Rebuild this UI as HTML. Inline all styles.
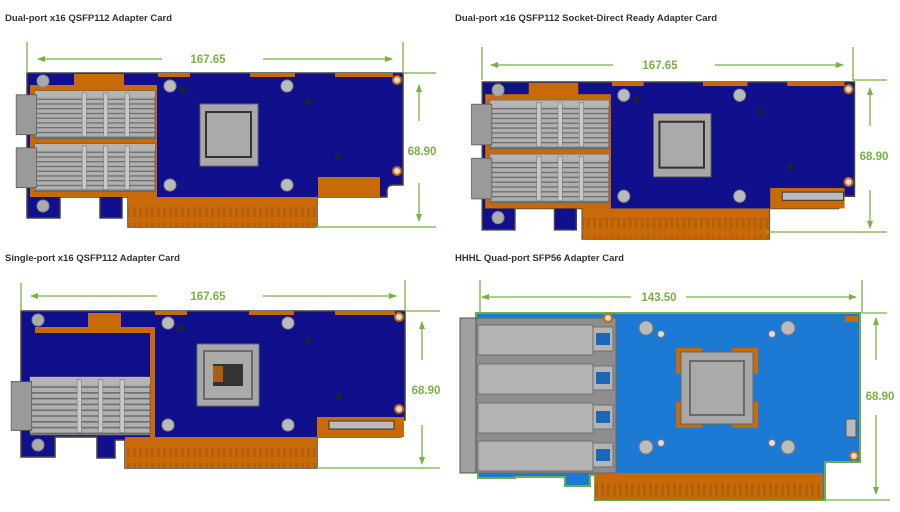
<!DOCTYPE html>
<html><head><meta charset="utf-8"><style>
html,body{margin:0;padding:0;background:#fff;width:900px;height:512px;overflow:hidden}
svg{display:block}
.t{font-family:"Liberation Sans",sans-serif;font-weight:bold;font-size:9.5px;fill:#333}
.d{font-family:"Liberation Sans",sans-serif;font-weight:bold;font-size:11.5px;fill:#78b045}
.g{stroke:#78b045;stroke-width:1.3;fill:none}
</style></head><body>
<svg width="900" height="512" viewBox="0 0 900 512" xmlns="http://www.w3.org/2000/svg">
<defs>
<marker id="ar" markerWidth="8" markerHeight="8" refX="7" refY="4" orient="auto" markerUnits="userSpaceOnUse"><path d="M0,1 L8,4 L0,7z" fill="#78b045"/></marker>
<pattern id="fin" width="4" height="5" patternUnits="userSpaceOnUse"><rect width="4" height="5" fill="#b0b0b0"/><rect y="3" width="4" height="1.3" fill="#6a6a6a"/></pattern>
<pattern id="gf" width="6" height="20" patternUnits="userSpaceOnUse"><rect width="6" height="20" fill="#c86a08"/><rect x="1" y="3" width="3" height="14" fill="#a85a10" opacity=".6"/></pattern>
<g id="hs">
 <rect x="0" y="0" width="140" height="50" fill="url(#fin)" stroke="#555" stroke-width=".8"/>
 <rect x="0" y="0" width="140" height="6" fill="#b5b5b5"/>
 <rect x="55" y="2" width="5" height="46" fill="#c8c8c8" stroke="#666" stroke-width=".5"/>
 <rect x="80" y="2" width="5" height="46" fill="#c8c8c8" stroke="#666" stroke-width=".5"/>
 <rect x="105" y="2" width="5" height="46" fill="#c8c8c8" stroke="#666" stroke-width=".5"/>
 <rect x="-22" y="4" width="24" height="42" fill="#9a9a9a" stroke="#555" stroke-width=".8"/>
</g>
<g id="card2">
 <path d="M27,73 H403 V185 H393 Q387,185 387,191 V197 H317 V227 H128 V197 H122 V218 H100 V197 H60 V218 H27 Z" fill="#10108c" stroke="#444" stroke-width="1.5"/>
 <rect x="128" y="207" width="189" height="20" fill="url(#gf)"/>
 <rect x="128" y="197" width="189" height="10" fill="#c86a08"/>
 <rect x="318" y="177" width="62" height="20" fill="#c86a08"/>
 <rect x="158" y="73" width="32" height="4" fill="#c86a08"/><rect x="250" y="73" width="45" height="4" fill="#c86a08"/><rect x="335" y="73" width="58" height="4" fill="#c86a08"/>
 <rect x="74" y="74" width="50" height="12" fill="#c86a08"/>
 <rect x="30" y="85" width="127" height="112" fill="#c86a08"/>
 <circle cx="43" cy="81" r="6" fill="#aaa" stroke="#888"/><circle cx="43" cy="206" r="6" fill="#aaa" stroke="#888"/>
 <use href="#hs" transform="translate(35,91) scale(0.857,0.95)"/>
 <use href="#hs" transform="translate(35,144) scale(0.857,0.95)"/>
 <rect x="200" y="104" width="58" height="62" fill="#a8a8a8" stroke="#666"/>
 <rect x="206" y="112" width="45" height="45" fill="#aaa" stroke="#333" stroke-width="2"/>
 <circle cx="170" cy="86" r="6" fill="#bbb" stroke="#888"/><circle cx="287" cy="86" r="6" fill="#bbb" stroke="#888"/>
 <circle cx="170" cy="185" r="6" fill="#bbb" stroke="#888"/><circle cx="287" cy="185" r="6" fill="#bbb" stroke="#888"/>
 <circle cx="183" cy="90" r="3" fill="#222"/><circle cx="308" cy="102" r="3" fill="#222"/><circle cx="338" cy="157" r="3" fill="#222"/>
 <circle cx="397" cy="80" r="4" fill="#ddd" stroke="#c86a08" stroke-width="2"/><circle cx="397" cy="171" r="4" fill="#ddd" stroke="#c86a08" stroke-width="2"/>
</g>
</defs>

<text class="t" x="5" y="21">Dual-port x16 QSFP112 Adapter Card</text>
<use href="#card2"/>
<line class="g" x1="27" y1="42" x2="27" y2="73"/><line class="g" x1="403" y1="42" x2="403" y2="73"/>
<line class="g" x1="403" y1="73" x2="436" y2="73"/><line class="g" x1="315" y1="227" x2="436" y2="227"/>
<line class="g" x1="162" y1="59" x2="38" y2="59" marker-end="url(#ar)"/>
<line class="g" x1="263" y1="59" x2="392" y2="59" marker-end="url(#ar)"/>
<text class="d" x="208" y="63" text-anchor="middle">167.65</text>
<line class="g" x1="419" y1="121" x2="419" y2="85" marker-end="url(#ar)"/>
<line class="g" x1="419" y1="183" x2="419" y2="221" marker-end="url(#ar)"/>
<text class="d" x="422" y="155" text-anchor="middle">68.90</text>

<text class="t" x="455" y="21">Dual-port x16 QSFP112 Socket-Direct Ready Adapter Card</text>
<g transform="translate(455.5,7.5) scale(0.99,1.02)">
 <use href="#card2"/>
 <rect x="318" y="177" width="75" height="20" fill="#c86a08"/>
 <rect x="330" y="181" width="62" height="8" fill="#bbb" stroke="#333"/>
</g>
<line class="g" x1="482" y1="47" x2="482" y2="80"/><line class="g" x1="853" y1="47" x2="853" y2="80"/>
<line class="g" x1="853" y1="80" x2="887" y2="80"/><line class="g" x1="765" y1="232" x2="887" y2="232"/>
<line class="g" x1="613" y1="65" x2="491" y2="65" marker-end="url(#ar)"/>
<line class="g" x1="715" y1="65" x2="843" y2="65" marker-end="url(#ar)"/>
<text class="d" x="660" y="69" text-anchor="middle">167.65</text>
<line class="g" x1="870" y1="126" x2="870" y2="88" marker-end="url(#ar)"/>
<line class="g" x1="870" y1="190" x2="870" y2="228" marker-end="url(#ar)"/>
<text class="d" x="874" y="160" text-anchor="middle">68.90</text>

<text class="t" x="5" y="261">Single-port x16 QSFP112 Adapter Card</text>
<path d="M21,311 H405 V420 H397 V430 H401 V437 H317 V468 H125 V440 H115 V458 H97 V437 H55 V457 H21 Z" fill="#10108c" stroke="#444" stroke-width="1.5"/>
<rect x="125" y="448" width="192" height="20" fill="url(#gf)"/>
<rect x="125" y="437" width="192" height="11" fill="#c86a08"/>
<rect x="317" y="417" width="87" height="20" fill="#c86a08"/>
<rect x="329" y="421" width="65" height="8" fill="#bbb" stroke="#333"/>
<rect x="88" y="313" width="33" height="14" fill="#c86a08"/>
<path d="M35,327 H155 V437 H150 V333 H35 Z" fill="#c86a08"/>
<rect x="155" y="311" width="32" height="4" fill="#c86a08"/><rect x="249" y="311" width="45" height="4" fill="#c86a08"/><rect x="335" y="311" width="60" height="4" fill="#c86a08"/>
<circle cx="38" cy="320" r="6" fill="#aaa" stroke="#888"/><circle cx="38" cy="445" r="6" fill="#aaa" stroke="#888"/>
<use href="#hs" transform="translate(30,377) scale(0.857,1.16)"/>
<rect x="197" y="344" width="62" height="62" fill="#a8a8a8" stroke="#666"/>
<rect x="204" y="351" width="48" height="48" fill="#aaa" stroke="#555" stroke-width="1.5"/>
<rect x="213" y="364" width="30" height="22" fill="#333"/>
<rect x="213" y="366" width="10" height="16" fill="#c86a08" opacity=".8"/>
<circle cx="168" cy="323" r="6" fill="#bbb" stroke="#888"/><circle cx="288" cy="323" r="6" fill="#bbb" stroke="#888"/>
<circle cx="168" cy="425" r="6" fill="#bbb" stroke="#888"/><circle cx="288" cy="425" r="6" fill="#bbb" stroke="#888"/>
<circle cx="181" cy="328" r="3" fill="#222"/><circle cx="308" cy="341" r="3" fill="#222"/><circle cx="339" cy="397" r="3" fill="#222"/>
<circle cx="399" cy="317" r="4" fill="#ddd" stroke="#c86a08" stroke-width="2"/><circle cx="399" cy="409" r="4" fill="#ddd" stroke="#c86a08" stroke-width="2"/>
<line class="g" x1="21" y1="283" x2="21" y2="311"/><line class="g" x1="405" y1="280" x2="405" y2="311"/>
<line class="g" x1="405" y1="311" x2="440" y2="311"/><line class="g" x1="317" y1="468" x2="440" y2="468"/>
<line class="g" x1="157" y1="296" x2="31" y2="296" marker-end="url(#ar)"/>
<line class="g" x1="263" y1="296" x2="396" y2="296" marker-end="url(#ar)"/>
<text class="d" x="208" y="300" text-anchor="middle">167.65</text>
<line class="g" x1="422" y1="360" x2="422" y2="322" marker-end="url(#ar)"/>
<line class="g" x1="422" y1="425" x2="422" y2="464" marker-end="url(#ar)"/>
<text class="d" x="426" y="394" text-anchor="middle">68.90</text>

<text class="t" x="455" y="261">HHHL Quad-port SFP56 Adapter Card</text>
<path d="M476,313 H860 V462 H825 V500 H595 V475 H590 V486 H565 V477 H515 V478 H478 V470 H476 Z" fill="#1c7ad4" stroke="#6ab04a" stroke-width="2"/>
<rect x="595" y="476" width="228" height="24" fill="url(#gf)"/>
<rect x="595" y="473" width="228" height="5" fill="#c86a08"/>
<rect x="460" y="318" width="156" height="155" fill="#8e8e8e" stroke="#666"/>
<rect x="460" y="318" width="16" height="155" fill="#a0a0a0" stroke="#555"/>
<g fill="#b4b4b4" stroke="#666" stroke-width=".8">
 <rect x="478" y="325" width="115" height="30"/><rect x="478" y="364" width="115" height="30"/>
 <rect x="478" y="403" width="115" height="30"/><rect x="478" y="441" width="115" height="30"/>
 <rect x="593" y="327" width="20" height="24"/><rect x="593" y="366" width="20" height="24"/>
 <rect x="593" y="405" width="20" height="24"/><rect x="593" y="443" width="20" height="24"/>
</g>
<g fill="#1c66b8"><rect x="596" y="333" width="14" height="12"/><rect x="596" y="372" width="14" height="12"/><rect x="596" y="411" width="14" height="12"/><rect x="596" y="449" width="14" height="12"/></g>
<rect x="676" y="348" width="28" height="80" fill="#c86a08"/><rect x="730" y="348" width="28" height="80" fill="#c86a08"/>
<rect x="676" y="374" width="82" height="28" fill="#1c7ad4"/>
<rect x="702" y="348" width="30" height="80" fill="#1c7ad4"/>
<rect x="681" y="352" width="72" height="72" fill="#a8a8a8" stroke="#666"/>
<rect x="690" y="361" width="54" height="54" fill="#aaa" stroke="#555" stroke-width="1.5"/>
<circle cx="646" cy="328" r="7" fill="#bbb" stroke="#777"/><circle cx="788" cy="328" r="7" fill="#bbb" stroke="#777"/>
<circle cx="646" cy="447" r="7" fill="#bbb" stroke="#777"/><circle cx="788" cy="447" r="7" fill="#bbb" stroke="#777"/>
<circle cx="661" cy="334" r="3.5" fill="#ddd" stroke="#777"/><circle cx="772" cy="334" r="3.5" fill="#ddd" stroke="#777"/>
<circle cx="661" cy="443" r="3.5" fill="#ddd" stroke="#777"/><circle cx="772" cy="443" r="3.5" fill="#ddd" stroke="#777"/>
<circle cx="608" cy="318" r="4" fill="#ddd" stroke="#c86a08" stroke-width="2"/><circle cx="854" cy="456" r="4" fill="#ddd" stroke="#c86a08" stroke-width="2"/>
<rect x="845" y="316" width="13" height="6" fill="#c86a08"/>
<rect x="846" y="419" width="10" height="18" fill="#bbb" stroke="#555"/>
<line class="g" x1="480" y1="280" x2="480" y2="313"/><line class="g" x1="862" y1="280" x2="862" y2="313"/>
<line class="g" x1="862" y1="313" x2="887" y2="313"/><line class="g" x1="823" y1="500" x2="890" y2="500"/>
<line class="g" x1="631" y1="297" x2="482" y2="297" marker-end="url(#ar)"/>
<line class="g" x1="686" y1="297" x2="856" y2="297" marker-end="url(#ar)"/>
<text class="d" x="659" y="301" text-anchor="middle">143.50</text>
<line class="g" x1="876" y1="360" x2="876" y2="318" marker-end="url(#ar)"/>
<line class="g" x1="876" y1="415" x2="876" y2="494" marker-end="url(#ar)"/>
<text class="d" x="880" y="400" text-anchor="middle">68.90</text>
</svg>
</body></html>
